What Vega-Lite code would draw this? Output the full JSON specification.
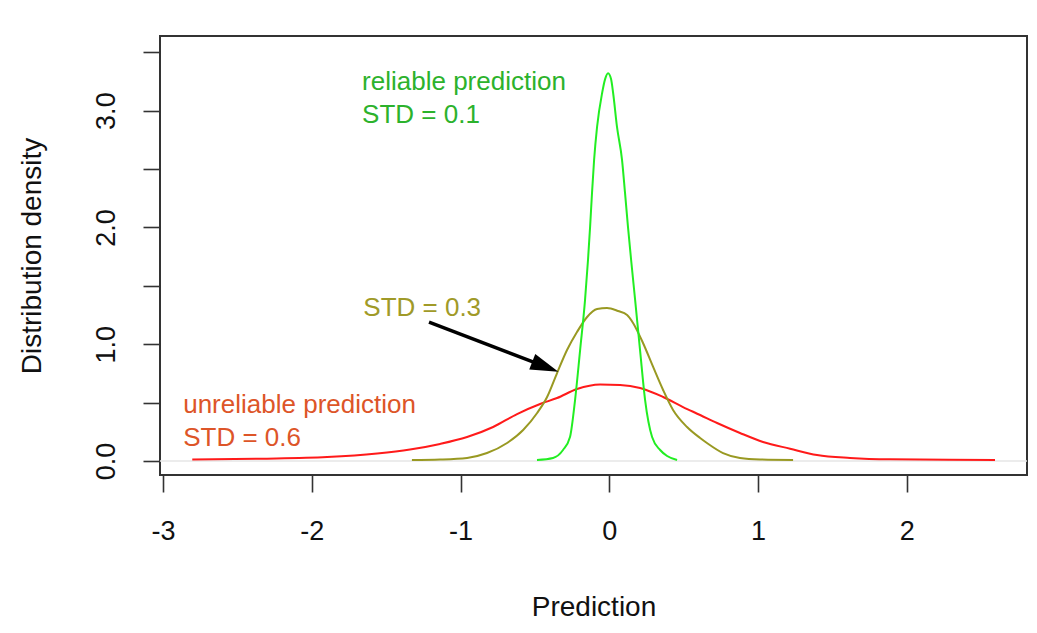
{
  "$schema": "https://vega.github.io/schema/vega-lite/v6.json",
  "autosize": {"type": "none"},
  "padding": {"left": 160, "top": 36, "right": 10, "bottom": 158},
  "width": 867,
  "height": 439,
  "background": "white",
  "config": {
    "view": {"stroke": "#333333", "strokeWidth": 2},
    "font": "Liberation Sans",
    "axis": {
      "labelFont": "Liberation Sans",
      "titleFont": "Liberation Sans",
      "labelColor": "#111111",
      "titleColor": "#111111",
      "labelFontSize": 27,
      "titleFontSize": 28,
      "titleFontWeight": "normal",
      "tickColor": "#333333",
      "tickWidth": 1.6,
      "tickSize": 17,
      "domain": false,
      "grid": false
    }
  },
  "datasets": {
    "curves": [
      {"series": "STD = 0.6", "x": -2.804, "y": 0.012},
      {"series": "STD = 0.6", "x": -2.347, "y": 0.02},
      {"series": "STD = 0.6", "x": -1.897, "y": 0.034},
      {"series": "STD = 0.6", "x": -1.561, "y": 0.064},
      {"series": "STD = 0.6", "x": -1.34, "y": 0.098},
      {"series": "STD = 0.6", "x": -1.138, "y": 0.146},
      {"series": "STD = 0.6", "x": -0.956, "y": 0.205},
      {"series": "STD = 0.6", "x": -0.781, "y": 0.291},
      {"series": "STD = 0.6", "x": -0.62, "y": 0.402},
      {"series": "STD = 0.6", "x": -0.465, "y": 0.488},
      {"series": "STD = 0.6", "x": -0.351, "y": 0.539},
      {"series": "STD = 0.6", "x": -0.217, "y": 0.616},
      {"series": "STD = 0.6", "x": -0.062, "y": 0.655},
      {"series": "STD = 0.6", "x": 0.073, "y": 0.651},
      {"series": "STD = 0.6", "x": 0.207, "y": 0.625},
      {"series": "STD = 0.6", "x": 0.362, "y": 0.548},
      {"series": "STD = 0.6", "x": 0.496, "y": 0.462},
      {"series": "STD = 0.6", "x": 0.611, "y": 0.394},
      {"series": "STD = 0.6", "x": 0.725, "y": 0.325},
      {"series": "STD = 0.6", "x": 0.879, "y": 0.24},
      {"series": "STD = 0.6", "x": 1.034, "y": 0.163},
      {"series": "STD = 0.6", "x": 1.216, "y": 0.105},
      {"series": "STD = 0.6", "x": 1.397, "y": 0.051},
      {"series": "STD = 0.6", "x": 1.619, "y": 0.026},
      {"series": "STD = 0.6", "x": 1.888, "y": 0.014},
      {"series": "STD = 0.6", "x": 2.594, "y": 0.009},
      {"series": "STD = 0.3", "x": -1.327, "y": 0.009},
      {"series": "STD = 0.3", "x": -1.138, "y": 0.013},
      {"series": "STD = 0.3", "x": -0.956, "y": 0.026},
      {"series": "STD = 0.3", "x": -0.822, "y": 0.068},
      {"series": "STD = 0.3", "x": -0.687, "y": 0.154},
      {"series": "STD = 0.3", "x": -0.579, "y": 0.265},
      {"series": "STD = 0.3", "x": -0.485, "y": 0.411},
      {"series": "STD = 0.3", "x": -0.418, "y": 0.548},
      {"series": "STD = 0.3", "x": -0.351, "y": 0.753},
      {"series": "STD = 0.3", "x": -0.284, "y": 0.95},
      {"series": "STD = 0.3", "x": -0.217, "y": 1.104},
      {"series": "STD = 0.3", "x": -0.149, "y": 1.233},
      {"series": "STD = 0.3", "x": -0.082, "y": 1.301},
      {"series": "STD = 0.3", "x": -0.015, "y": 1.31},
      {"series": "STD = 0.3", "x": 0.059, "y": 1.284},
      {"series": "STD = 0.3", "x": 0.12, "y": 1.25},
      {"series": "STD = 0.3", "x": 0.16, "y": 1.182},
      {"series": "STD = 0.3", "x": 0.227, "y": 1.01},
      {"series": "STD = 0.3", "x": 0.295, "y": 0.805},
      {"series": "STD = 0.3", "x": 0.362, "y": 0.608},
      {"series": "STD = 0.3", "x": 0.429, "y": 0.437},
      {"series": "STD = 0.3", "x": 0.523, "y": 0.291},
      {"series": "STD = 0.3", "x": 0.611, "y": 0.197},
      {"series": "STD = 0.3", "x": 0.657, "y": 0.154},
      {"series": "STD = 0.3", "x": 0.765, "y": 0.068},
      {"series": "STD = 0.3", "x": 0.879, "y": 0.026},
      {"series": "STD = 0.3", "x": 1.014, "y": 0.013},
      {"series": "STD = 0.3", "x": 1.236, "y": 0.009},
      {"series": "STD = 0.1", "x": -0.486, "y": 0.009},
      {"series": "STD = 0.1", "x": -0.378, "y": 0.026},
      {"series": "STD = 0.1", "x": -0.311, "y": 0.094},
      {"series": "STD = 0.1", "x": -0.264, "y": 0.205},
      {"series": "STD = 0.1", "x": -0.23, "y": 0.522},
      {"series": "STD = 0.1", "x": -0.196, "y": 0.95},
      {"series": "STD = 0.1", "x": -0.163, "y": 1.378},
      {"series": "STD = 0.1", "x": -0.143, "y": 1.721},
      {"series": "STD = 0.1", "x": -0.129, "y": 2.003},
      {"series": "STD = 0.1", "x": -0.116, "y": 2.295},
      {"series": "STD = 0.1", "x": -0.102, "y": 2.577},
      {"series": "STD = 0.1", "x": -0.082, "y": 2.86},
      {"series": "STD = 0.1", "x": -0.048, "y": 3.151},
      {"series": "STD = 0.1", "x": -0.028, "y": 3.27},
      {"series": "STD = 0.1", "x": -0.008, "y": 3.32},
      {"series": "STD = 0.1", "x": 0.012, "y": 3.27},
      {"series": "STD = 0.1", "x": 0.026, "y": 3.151},
      {"series": "STD = 0.1", "x": 0.052, "y": 2.86},
      {"series": "STD = 0.1", "x": 0.086, "y": 2.577},
      {"series": "STD = 0.1", "x": 0.106, "y": 2.295},
      {"series": "STD = 0.1", "x": 0.126, "y": 2.003},
      {"series": "STD = 0.1", "x": 0.147, "y": 1.721},
      {"series": "STD = 0.1", "x": 0.174, "y": 1.378},
      {"series": "STD = 0.1", "x": 0.207, "y": 0.95},
      {"series": "STD = 0.1", "x": 0.241, "y": 0.522},
      {"series": "STD = 0.1", "x": 0.288, "y": 0.205},
      {"series": "STD = 0.1", "x": 0.342, "y": 0.094},
      {"series": "STD = 0.1", "x": 0.389, "y": 0.043},
      {"series": "STD = 0.1", "x": 0.456, "y": 0.009}
    ],
    "notes": [
      {"series": "STD = 0.1", "label": "reliable prediction", "x": -1.662, "y": 3.176},
      {"series": "STD = 0.1", "label": "STD = 0.1", "x": -1.662, "y": 2.896},
      {"series": "STD = 0.3", "label": "STD = 0.3", "x": -1.654, "y": 1.241},
      {"series": "STD = 0.6", "label": "unreliable prediction", "x": -2.865, "y": 0.408},
      {"series": "STD = 0.6", "label": "STD = 0.6", "x": -2.865, "y": 0.128}
    ],
    "arrow": [
      {"x": -1.212, "y": 1.19, "x2": -0.43, "y2": 0.807}
    ],
    "zero": [{"y": 0}]
  },
  "resolve": {"scale": {"color": "independent"}},
  "layer": [
    {
      "data": {"name": "zero"},
      "mark": {"type": "rule", "color": "#e6e6e6", "strokeWidth": 1.5},
      "encoding": {
        "y": {"field": "y", "type": "quantitative", "scale": {"domain": [-0.12, 3.639], "nice": false, "zero": false}, "axis": {
          "title": "Distribution density",
          "values": [0, 0.5, 1, 1.5, 2, 2.5, 3, 3.5],
          "labelExpr": "datum.value % 1 === 0 ? format(datum.value, '.1f') : ''",
          "labelAngle": 270,
          "labelAlign": "center",
          "labelBaseline": "alphabetic",
          "labelPadding": 29,
          "titlePadding": 46
        }}
      }
    },
    {
      "data": {"name": "curves"},
      "mark": {"type": "line", "strokeWidth": 2, "interpolate": "monotone"},
      "encoding": {
        "x": {"field": "x", "type": "quantitative", "scale": {"domain": [-3.021, 2.809], "nice": false, "zero": false}, "axis": {
          "title": "Prediction",
          "values": [-3, -2, -1, 0, 1, 2],
          "labelExpr": "'' + datum.value",
          "labelPadding": 26,
          "titlePadding": 49
        }},
        "y": {"field": "y", "type": "quantitative"},
        "color": {"field": "series", "type": "nominal", "legend": null,
          "scale": {"domain": ["STD = 0.6", "STD = 0.3", "STD = 0.1"], "range": ["#ff1a1a", "#999922", "#22ee22"]}},
        "order": {"field": "x", "type": "quantitative"}
      }
    },
    {
      "data": {"name": "notes"},
      "mark": {"type": "text", "align": "left", "baseline": "alphabetic", "fontSize": 26, "font": "Liberation Sans"},
      "encoding": {
        "x": {"field": "x", "type": "quantitative"},
        "y": {"field": "y", "type": "quantitative"},
        "text": {"field": "label"},
        "color": {"field": "series", "type": "nominal", "legend": null,
          "scale": {"domain": ["STD = 0.6", "STD = 0.3", "STD = 0.1"], "range": ["#dd5528", "#a09a28", "#2cb22c"]}}
      }
    },
    {
      "data": {"name": "arrow"},
      "mark": {"type": "rule", "color": "#000000", "strokeWidth": 3.5},
      "encoding": {
        "x": {"field": "x", "type": "quantitative"},
        "y": {"field": "y", "type": "quantitative"},
        "x2": {"field": "x2"},
        "y2": {"field": "y2"}
      }
    },
    {
      "data": {"name": "arrow"},
      "mark": {"type": "point", "shape": "M1,0L-1,-0.6L-1,0.6Z", "size": 784, "angle": 21, "filled": true, "color": "#000000", "opacity": 1},
      "encoding": {
        "x": {"field": "x2", "type": "quantitative"},
        "y": {"field": "y2", "type": "quantitative"}
      }
    }
  ]
}
